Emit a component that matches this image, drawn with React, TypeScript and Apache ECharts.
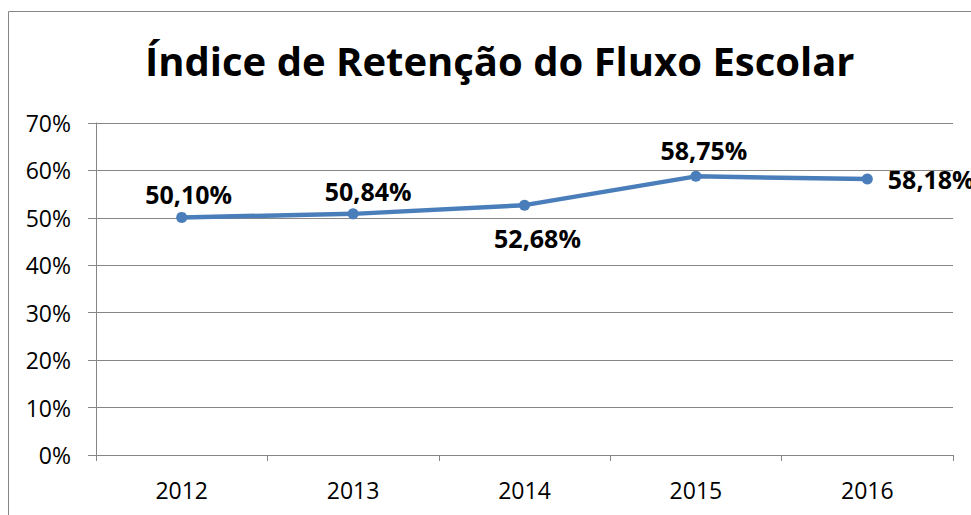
import React, { useEffect, useRef } from "react";
import * as echarts from "echarts";

const categories = ["2012", "2013", "2014", "2015", "2016"];
const values = [50.1, 50.84, 52.68, 58.75, 58.18];
const labelPositions = ["top", "top", "bottom", "top", "right"];
const labelDistances = [5, 5, 15, 8, 15];
const labelOffsetsX = [7, 15, 13, 8, 0];
const yTicks = [0, 10, 20, 30, 40, 50, 60, 70];

const FONT = "'Open Sans', 'Noto Sans', sans-serif";

export default function App() {
  const ref = useRef<HTMLDivElement>(null);
  useEffect(() => {
    const chart = echarts.init(ref.current!, null, { renderer: "svg" });
    chart.setOption({
      animation: false,
      backgroundColor: "#ffffff",
      graphic: [
        {
          type: "rect",
          shape: { x: 8.5, y: 11.5, width: 1000, height: 600 },
          style: { fill: "none", stroke: "#868686", lineWidth: 1 },
          silent: true,
        },
      ],
      title: {
        text: "Índice de Retenção do Fluxo Escolar",
        left: 140,
        top: 35,
        textStyle: { fontFamily: FONT, fontWeight: "bold", fontSize: 40, color: "#000" },
      },
      grid: { left: 96, right: 18, top: 123, bottom: 60, containLabel: false },
      xAxis: {
        type: "category",
        data: categories,
        boundaryGap: true,
        axisLine: { lineStyle: { color: "#868686", width: 1 } },
        axisTick: { show: true, length: 6, lineStyle: { color: "#868686" } },
        axisLabel: { fontFamily: FONT, fontSize: 23, color: "#000", margin: 23 },
      },
      yAxis: {
        type: "value",
        min: yTicks[0],
        max: yTicks[yTicks.length - 1],
        interval: 10,
        axisLine: { show: true, lineStyle: { color: "#868686", width: 1 } },
        axisTick: { show: true, length: 8, lineStyle: { color: "#868686" } },
        splitLine: { show: true, lineStyle: { color: "#868686", width: 1 } },
        axisLabel: {
          fontFamily: FONT,
          fontSize: 23,
          color: "#000",
          margin: 25,
          formatter: (v: number) => `${v}%`,
        },
      },
      series: [
        {
          type: "line",
          data: values.map((v, i) => ({
            value: v,
            label: {
              position: labelPositions[i],
              distance: labelDistances[i],
              offset: [labelOffsetsX[i], 0],
            },
          })),
          color: "#4a7ebb",
          lineStyle: { width: 4.5, color: "#4a7ebb" },
          symbol: "circle",
          symbolSize: 11,
          itemStyle: { color: "#4a7ebb" },
          label: {
            show: true,
            fontFamily: FONT,
            fontWeight: "bold",
            fontSize: 25,
            color: "#000",
            formatter: (p: any) => p.value.toFixed(2).replace(".", ",") + "%",
          },
        },
      ],
    });
    return () => chart.dispose();
  }, []);
  return <div ref={ref} style={{ width: 971, height: 515, position: "absolute", left: 0, top: 0 }} />;
}
